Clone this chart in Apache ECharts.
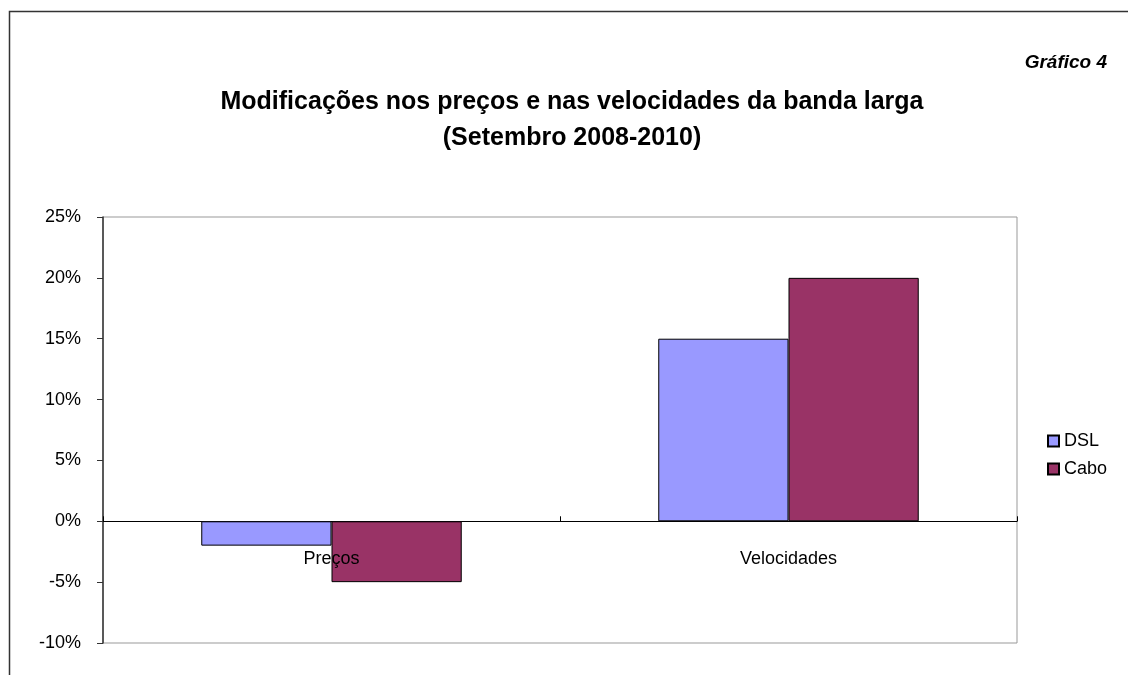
<!DOCTYPE html>
<html><head><meta charset="utf-8">
<script src="https://cdn.jsdelivr.net/npm/echarts@6/dist/echarts.min.js"></script>
<style>html,body{margin:0;padding:0;background:#fff}#c{width:1128px;height:675px}</style>
</head><body><div id="c"></div>
<script>
const categories = ['Preços', 'Velocidades'];
const dsl = [-2, 15];
const cabo = [-5, 20];
const yTicks = {min: -10, max: 25, interval: 5};

const chart = echarts.init(document.getElementById('c'), null, {renderer: 'canvas'});
const font = 'Liberation Sans, Arial, sans-serif';
const gridBottomPx = 675 - 32;
const option = {
  animation: false,
  backgroundColor: '#fff',
  graphic: [
    {type: 'rect', shape: {x: 9.5, y: 11.5, width: 1200, height: 700}, style: {fill: 'none', stroke: '#333', lineWidth: 1.5}},
    {type: 'text', x: 1107, y: 53, style: {text: 'Gráfico 4', font: 'italic bold 19px ' + font, fill: '#000', align: 'right'}}
  ],
  title: {
    text: 'Modificações nos preços e nas velocidades da banda larga\n(Setembro 2008-2010)',
    left: 567, top: 79, textAlign: 'center',
    textStyle: {fontFamily: font, fontWeight: 'bold', fontSize: 25, lineHeight: 36, color: '#000'}
  },
  legend: {
    orient: 'vertical', left: 1042, top: 427, itemGap: 10, itemWidth: 11, itemHeight: 11,
    icon: 'rect',
    textStyle: {fontFamily: font, fontSize: 18, color: '#000'},
    data: ['DSL', 'Cabo']
  },
  grid: {left: 103, right: 111, top: 217, bottom: 32, show: true, borderColor: '#999', borderWidth: 1, containLabel: false},
  xAxis: [{
    type: 'category', data: categories,
    axisLine: {onZero: true, lineStyle: {color: '#000', width: 1}},
    axisTick: {show: true, length: 5, inside: true, lineStyle: {color: '#000'}},
    axisLabel: {show: false}
  }, {
    type: 'category', data: categories, position: 'bottom', offset: 0, z: 20,
    axisLine: {show: false}, axisTick: {show: false},
    axisLabel: {fontFamily: font, fontSize: 18, color: '#000', margin: 52, padding: [12, 0, 0, 0]}
  }],
  yAxis: {
    type: 'value', min: yTicks.min, max: yTicks.max, interval: yTicks.interval,
    axisLine: {show: true, lineStyle: {color: '#333', width: 1.5}},
    axisTick: {show: true, length: 6, lineStyle: {color: '#333'}},
    splitLine: {show: false},
    axisLabel: {fontFamily: font, fontSize: 18, color: '#000', margin: 22, formatter: v => v + '%'}
  },
  series: [
    {name: 'DSL', type: 'bar', data: dsl, barGap: '0%', barCategoryGap: '43%',
     itemStyle: {color: '#9999FF', borderColor: '#000', borderWidth: 1}},
    {name: 'Cabo', type: 'bar', data: cabo, barGap: '0%', barCategoryGap: '43%',
     itemStyle: {color: '#993366', borderColor: '#000', borderWidth: 1}}
  ]
};
chart.setOption(option);
const y0 = chart.convertToPixel({yAxisIndex: 0}, 0);
chart.setOption({xAxis: [{}, {offset: -(gridBottomPx - y0)}]});
</script></body></html>
